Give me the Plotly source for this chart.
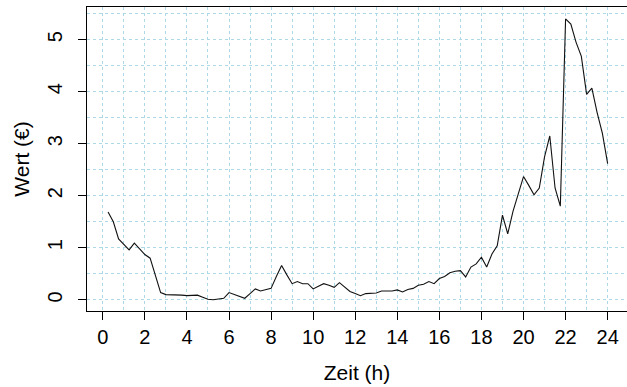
import plotly.graph_objects as go

# Zeit in Stunden (Viertelstunden-Raster)
zeit_h = [0.25, 0.5, 0.75, 1.0, 1.25, 1.5, 1.75, 2.0, 2.25, 2.5, 2.75, 3.0,
          3.25, 3.5, 3.75, 4.0, 4.25, 4.5, 4.75, 5.0, 5.25, 5.5, 5.75, 6.0,
          6.25, 6.5, 6.75, 7.0, 7.25, 7.5, 7.75, 8.0, 8.25, 8.5, 8.75, 9.0,
          9.25, 9.5, 9.75, 10.0, 10.25, 10.5, 10.75, 11.0, 11.25, 11.5, 11.75, 12.0,
          12.25, 12.5, 12.75, 13.0, 13.25, 13.5, 13.75, 14.0, 14.25, 14.5, 14.75, 15.0,
          15.25, 15.5, 15.75, 16.0, 16.25, 16.5, 16.75, 17.0, 17.25, 17.5, 17.75, 18.0,
          18.25, 18.5, 18.75, 19.0, 19.25, 19.5, 19.75, 20.0, 20.25, 20.5, 20.75, 21.0,
          21.25, 21.5, 21.75, 22.0, 22.25, 22.5, 22.75, 23.0, 23.25, 23.5, 23.75, 24.0]

# Wert in Euro
wert = [1.69, 1.50, 1.17, 1.06, 0.96, 1.09, 0.99, 0.87, 0.80, 0.47, 0.14, 0.10,
        0.10, 0.09, 0.09, 0.08, 0.08, 0.09, 0.05, 0.01, 0.00, 0.01, 0.03, 0.14,
        0.10, 0.06, 0.03, 0.12, 0.21, 0.17, 0.20, 0.22, 0.45, 0.66, 0.48, 0.31,
        0.35, 0.31, 0.31, 0.21, 0.26, 0.31, 0.28, 0.24, 0.33, 0.25, 0.16, 0.12,
        0.08, 0.12, 0.13, 0.13, 0.17, 0.17, 0.17, 0.19, 0.15, 0.20, 0.22, 0.28,
        0.30, 0.35, 0.31, 0.41, 0.45, 0.52, 0.55, 0.56, 0.44, 0.63, 0.69, 0.82,
        0.63, 0.88, 1.04, 1.63, 1.27, 1.70, 2.05, 2.37, 2.20, 2.02, 2.15, 2.75,
        3.15, 2.15, 1.80, 5.40, 5.30, 4.95, 4.68, 3.95, 4.07, 3.60, 3.20, 2.62]

x_ticks = [0, 2, 4, 6, 8, 10, 12, 14, 16, 18, 20, 22, 24]
y_ticks = [0, 1, 2, 3, 4, 5]

FONT = "Liberation Sans, Arial, sans-serif"
GRID = "#add8e6"

fig = go.Figure(go.Scatter(
    x=zeit_h, y=wert, mode="lines",
    line=dict(color="#111111", width=1.1),
    hoverinfo="skip"))

fig.update_layout(
    width=627, height=387,
    margin=dict(l=87, r=0, t=7, b=76),
    paper_bgcolor="white", plot_bgcolor="white",
    showlegend=False,
    font=dict(family=FONT, color="black", size=20),
)

fig.update_xaxes(
    automargin=False,
    range=[-0.751, 24.92],
    tickmode="array", tickvals=x_ticks, ticktext=[str(v) for v in x_ticks],
    ticks="outside", ticklen=8, tickcolor="black", tickwidth=1,
    tickfont=dict(size=20),
    showline=True, linecolor="black", linewidth=1, mirror=True,
    showgrid=True, gridcolor=GRID, griddash="dot", gridwidth=1,
    minor=dict(dtick=1, tick0=0, showgrid=True, gridcolor=GRID, griddash="dot", gridwidth=1, ticks=""),
    zeroline=False,
    title=dict(text="Zeit (h)", font=dict(size=21), standoff=18),
)

fig.update_yaxes(
    automargin=False,
    range=[-0.215, 5.63],
    tickmode="array", tickvals=y_ticks, ticktext=[str(v) for v in y_ticks],
    ticks="outside", ticklen=8, tickcolor="black", tickwidth=1,
    tickfont=dict(size=20), tickangle=-90, ticklabelstandoff=8,
    showline=True, linecolor="black", linewidth=1, mirror=False,
    showgrid=True, gridcolor=GRID, griddash="dot", gridwidth=1,
    minor=dict(dtick=0.5, tick0=0, showgrid=True, gridcolor=GRID, griddash="dot", gridwidth=1, ticks=""),
    zeroline=False,
    title=dict(text="Wert (€)", font=dict(size=21), standoff=8),
)

fig.write_html("out.html", config={"displayModeBar": False},
               post_script="document.body.style.margin='0';")
